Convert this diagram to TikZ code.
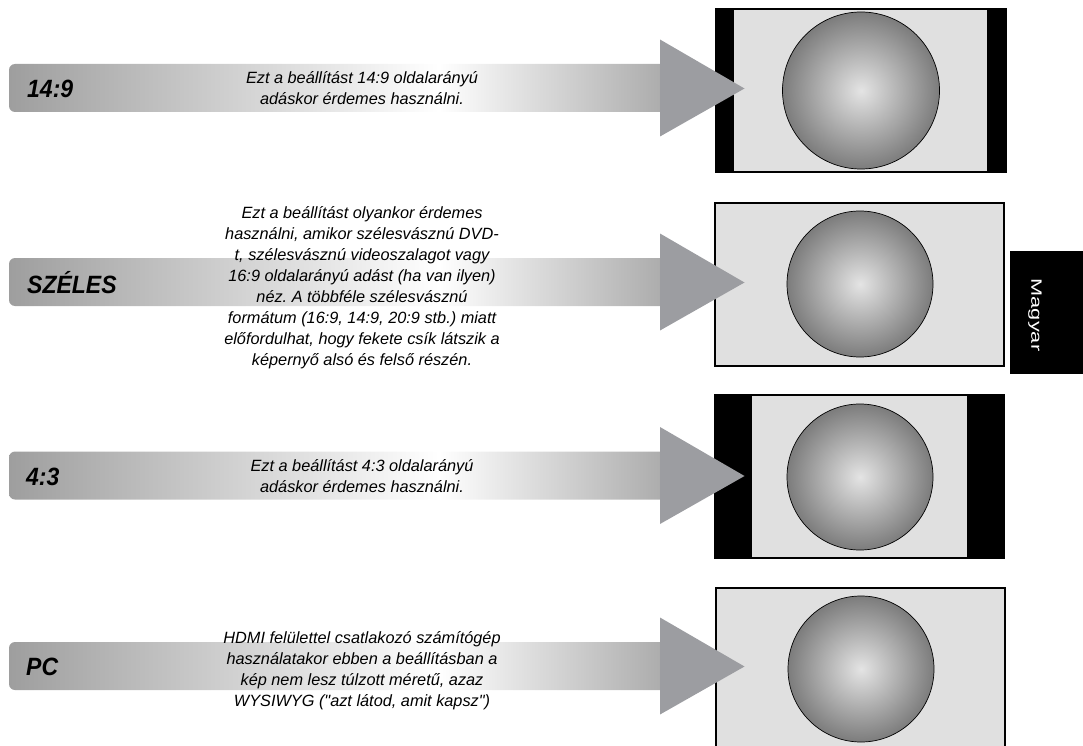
\documentclass[tikz,border=0pt]{standalone}
\usepackage{fontspec}
\setmainfont{Liberation Sans}
\newfontfamily\descfont{Liberation Sans}
\newfontfamily\labfont{Liberation Sans}[FakeStretch=0.92]
\newfontfamily\magfont{Liberation Sans}[FakeStretch=1.45]
\definecolor{bandL}{HTML}{9E9E9E}
\definecolor{bandR}{HTML}{ADADAD}
\definecolor{arrowgray}{HTML}{9C9DA1}
\definecolor{scrbg}{HTML}{E0E0E0}
\definecolor{sphin}{HTML}{E4E4E4}
\definecolor{sphout}{HTML}{7C7C7C}
\pgfdeclarehorizontalshading{bandshade}{100bp}{color(0bp)=(bandL); color(25bp)=(bandL); color(58bp)=(white); color(75bp)=(bandR); color(100bp)=(bandR)}
\tikzset{
  desc/.style={font=\descfont\itshape\fontsize{16.3}{21}\selectfont\frenchspacing, align=center, inner sep=0pt, text=black, anchor=base},
  lab/.style={font=\labfont\bfseries\itshape\fontsize{25}{25}\selectfont, anchor=west, inner sep=0pt},
  screenbox/.style={draw=black, line width=1.4pt, fill=scrbg},
  sphere/.style={inner color=sphin, outer color=sphout, draw=black, line width=0.7pt},
  arrowhd/.style={fill=arrowgray},
  bandfill/.style={shading=bandshade}
}
\frenchspacing
\begin{document}
\begin{tikzpicture}[x=1pt,y=-1pt]
\useasboundingbox (0,0) rectangle (1083,746);
\clip (0,0) rectangle (1083,746);
% ---------- screens ----------
% 14:9
\draw[screenbox] (716,9) rectangle (1006,172);
\fill[black] (716,9) rectangle (734,172);
\fill[black] (987,9) rectangle (1006,172);
\draw[sphere] (861,90.5) circle (78.5);
% wide
\draw[screenbox] (715,203) rectangle (1004,366);
\draw[sphere] (860,284) circle (73);
% 4:3
\draw[screenbox] (715,395) rectangle (1004,558);
\fill[black] (715,395) rectangle (752,558);
\fill[black] (967,395) rectangle (1004,558);
\draw[sphere] (860,477) circle (73);
% PC
\draw[screenbox] (716,588) rectangle (1005,751);
\draw[sphere] (861,669) circle (73);
% ---------- bands and arrowheads ----------
\foreach \c in {88,282,475.5,666}{
  \path[bandfill] (660,\c-24) [rounded corners=6pt] -- (9,\c-24) -- (9,\c+24) [sharp corners] -- (660,\c+24) -- cycle;
  \fill[arrowhd] (660,\c-48.5) -- (744.5,\c+0.5) -- (660,\c+48.5) -- cycle;
}
% ---------- labels ----------
\node[lab] (l149) at (27,89) {14:9};
\node[lab] (lwide) at (27,283) {SZÉLES};
\node[lab] (l43) at (26,476.5) {4:3};
\node[lab] (lpc) at (26,667) {PC};
% ---------- descriptions (positioned by last baseline) ----------
\node[desc] (d149) at (362,104.5) {Ezt a beállítást 14:9 oldalarányú\\adáskor érdemes használni.};
\node[desc] (dwide) at (362,365) {Ezt a beállítást olyankor érdemes\\használni, amikor szélesvásznú DVD-\\t, szélesvásznú videoszalagot vagy\\16:9 oldalarányú adást (ha van ilyen)\\néz. A többféle szélesvásznú\\formátum (16:9, 14:9, 20:9 stb.) miatt\\előfordulhat, hogy fekete csík látszik a\\képernyő alsó és felső részén.};
\node[desc] (d43) at (362,492) {Ezt a beállítást 4:3 oldalarányú\\adáskor érdemes használni.};
\node[desc] (dpc) at (362,706.5) {HDMI felülettel csatlakozó számítógép\\használatakor ebben a beállításban a\\kép nem lesz túlzott méretű, azaz\\WYSIWYG ("azt látod, amit kapsz")};
% ---------- language tab ----------
\fill[black] (1010,251) rectangle (1083,374);
\node[font=\magfont\fontsize{15}{15}\selectfont, text=white, rotate=-90, inner sep=0pt] (mag) at (1035,315) {Magyar};
\end{tikzpicture}
\end{document}
